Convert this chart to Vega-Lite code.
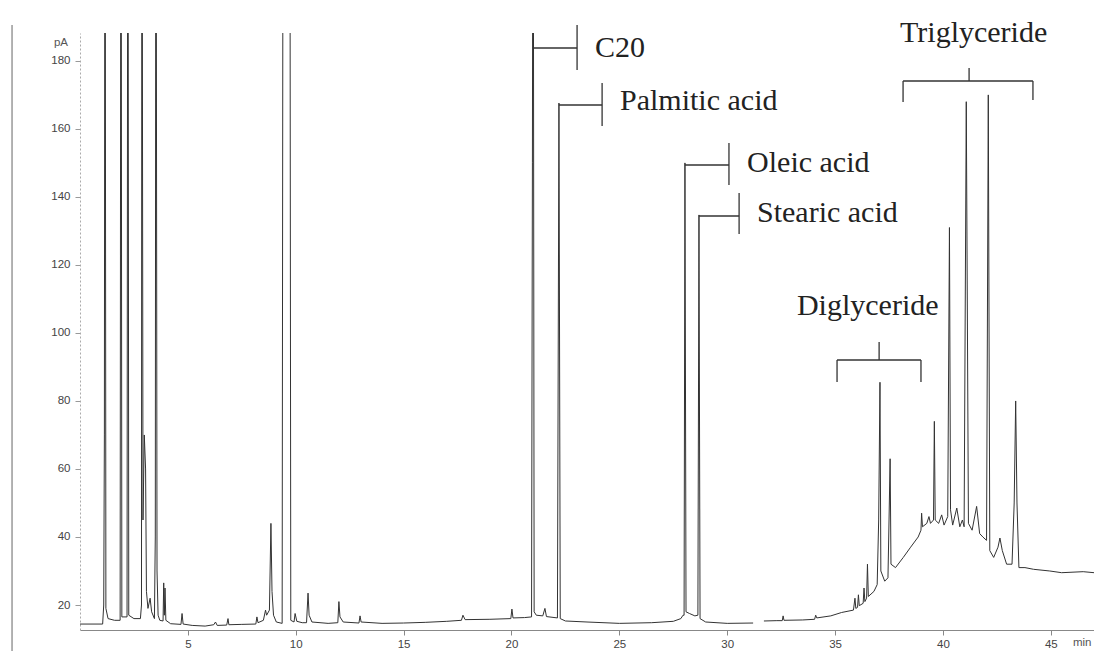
{
  "$schema": "https://vega.github.io/schema/vega-lite/v6.json",
  "width": 1014,
  "height": 597,
  "autosize": {"type": "none"},
  "padding": {"left": 80, "top": 33, "right": 0, "bottom": 21},
  "background": "white",
  "config": {"view": {"stroke": null}},
  "datasets": {
    "trace": [
      {"seg": 1, "t": 0, "v": 14.4}, {"seg": 1, "t": 1.05, "v": 14.4}, {"seg": 1, "t": 1.1, "v": 20}, {"seg": 1, "t": 1.13, "v": 70}, {"seg": 1, "t": 1.16, "v": 300}, {"seg": 1, "t": 1.2, "v": 19}, {"seg": 1, "t": 1.3, "v": 16}, {"seg": 1, "t": 1.6, "v": 15.5}, {"seg": 1, "t": 1.86, "v": 15.5}, {"seg": 1, "t": 1.9, "v": 300}, {"seg": 1, "t": 1.94, "v": 16.5}, {"seg": 1, "t": 2.18, "v": 16.5}, {"seg": 1, "t": 2.22, "v": 300}, {"seg": 1, "t": 2.26, "v": 17}, {"seg": 1, "t": 2.5, "v": 16}, {"seg": 1, "t": 2.8, "v": 16}, {"seg": 1, "t": 2.85, "v": 20}, {"seg": 1, "t": 2.87, "v": 300}, {"seg": 1, "t": 2.92, "v": 45}, {"seg": 1, "t": 2.98, "v": 70}, {"seg": 1, "t": 3.04, "v": 60}, {"seg": 1, "t": 3.08, "v": 24}, {"seg": 1, "t": 3.15, "v": 19}, {"seg": 1, "t": 3.25, "v": 22}, {"seg": 1, "t": 3.32, "v": 18}, {"seg": 1, "t": 3.45, "v": 16}, {"seg": 1, "t": 3.49, "v": 40}, {"seg": 1, "t": 3.52, "v": 300}, {"seg": 1, "t": 3.57, "v": 30}, {"seg": 1, "t": 3.62, "v": 17}, {"seg": 1, "t": 3.7, "v": 15.5}, {"seg": 1, "t": 3.85, "v": 15.3}, {"seg": 1, "t": 3.88, "v": 26.5}, {"seg": 1, "t": 3.91, "v": 17}, {"seg": 1, "t": 3.94, "v": 25}, {"seg": 1, "t": 3.98, "v": 15.5}, {"seg": 1, "t": 4.2, "v": 14.5}, {"seg": 1, "t": 4.68, "v": 14.3}, {"seg": 1, "t": 4.73, "v": 17.5}, {"seg": 1, "t": 4.78, "v": 14.4}, {"seg": 1, "t": 5.2, "v": 14}, {"seg": 1, "t": 5.8, "v": 13.8}, {"seg": 1, "t": 6.2, "v": 14.2}, {"seg": 1, "t": 6.28, "v": 15}, {"seg": 1, "t": 6.36, "v": 14}, {"seg": 1, "t": 6.8, "v": 14.1}, {"seg": 1, "t": 6.86, "v": 16}, {"seg": 1, "t": 6.9, "v": 14.2}, {"seg": 1, "t": 7.5, "v": 14.3}, {"seg": 1, "t": 8.15, "v": 14.4}, {"seg": 1, "t": 8.2, "v": 16.5}, {"seg": 1, "t": 8.25, "v": 14.8}, {"seg": 1, "t": 8.5, "v": 15.5}, {"seg": 1, "t": 8.6, "v": 18.5}, {"seg": 1, "t": 8.65, "v": 17}, {"seg": 1, "t": 8.78, "v": 18.5}, {"seg": 1, "t": 8.85, "v": 44}, {"seg": 1, "t": 8.9, "v": 24}, {"seg": 1, "t": 8.97, "v": 17}, {"seg": 1, "t": 9.1, "v": 15}, {"seg": 1, "t": 9.37, "v": 14.6}, {"seg": 1, "t": 9.42, "v": 300}, {"seg": 1, "t": 9.72, "v": 300}, {"seg": 1, "t": 9.77, "v": 15.5}, {"seg": 1, "t": 9.92, "v": 15}, {"seg": 1, "t": 9.97, "v": 17.5}, {"seg": 1, "t": 10.05, "v": 15.2}, {"seg": 1, "t": 10.3, "v": 14.8}, {"seg": 1, "t": 10.5, "v": 14.8}, {"seg": 1, "t": 10.57, "v": 23.5}, {"seg": 1, "t": 10.62, "v": 17}, {"seg": 1, "t": 10.75, "v": 15}, {"seg": 1, "t": 11.5, "v": 14.6}, {"seg": 1, "t": 11.95, "v": 14.8}, {"seg": 1, "t": 12.0, "v": 21}, {"seg": 1, "t": 12.05, "v": 16.5}, {"seg": 1, "t": 12.2, "v": 15}, {"seg": 1, "t": 12.93, "v": 14.7}, {"seg": 1, "t": 12.98, "v": 16.8}, {"seg": 1, "t": 13.03, "v": 15}, {"seg": 1, "t": 14, "v": 14.6}, {"seg": 1, "t": 15, "v": 14.7}, {"seg": 1, "t": 16, "v": 14.9}, {"seg": 1, "t": 17, "v": 15.2}, {"seg": 1, "t": 17.68, "v": 15.5}, {"seg": 1, "t": 17.75, "v": 17}, {"seg": 1, "t": 17.85, "v": 15.7}, {"seg": 1, "t": 19, "v": 15.8}, {"seg": 1, "t": 19.97, "v": 16}, {"seg": 1, "t": 20.02, "v": 18.8}, {"seg": 1, "t": 20.07, "v": 16.2}, {"seg": 1, "t": 20.6, "v": 16.3}, {"seg": 1, "t": 20.93, "v": 16.5}, {"seg": 1, "t": 20.97, "v": 150}, {"seg": 1, "t": 21.0, "v": 300}, {"seg": 1, "t": 21.05, "v": 18}, {"seg": 1, "t": 21.15, "v": 17}, {"seg": 1, "t": 21.45, "v": 16.8}, {"seg": 1, "t": 21.55, "v": 19}, {"seg": 1, "t": 21.62, "v": 16.6}, {"seg": 1, "t": 22.13, "v": 16.2}, {"seg": 1, "t": 22.2, "v": 167.6}, {"seg": 1, "t": 22.26, "v": 16}, {"seg": 1, "t": 22.5, "v": 15.3}, {"seg": 1, "t": 23.5, "v": 15}, {"seg": 1, "t": 25, "v": 14.6}, {"seg": 1, "t": 26.5, "v": 14.8}, {"seg": 1, "t": 27.5, "v": 15.2}, {"seg": 1, "t": 27.85, "v": 16}, {"seg": 1, "t": 27.95, "v": 17}, {"seg": 1, "t": 28.0, "v": 17}, {"seg": 1, "t": 28.04, "v": 150}, {"seg": 1, "t": 28.09, "v": 18}, {"seg": 1, "t": 28.25, "v": 17.5}, {"seg": 1, "t": 28.5, "v": 16.8}, {"seg": 1, "t": 28.64, "v": 17}, {"seg": 1, "t": 28.69, "v": 134.7}, {"seg": 1, "t": 28.74, "v": 16}, {"seg": 1, "t": 29, "v": 15}, {"seg": 1, "t": 30, "v": 14.6}, {"seg": 1, "t": 31.2, "v": 14.7},
      {"seg": 2, "t": 31.7, "v": 15.3}, {"seg": 2, "t": 32.3, "v": 15.4}, {"seg": 2, "t": 32.55, "v": 15.4}, {"seg": 2, "t": 32.59, "v": 16.8}, {"seg": 2, "t": 32.63, "v": 15.5}, {"seg": 2, "t": 33.5, "v": 15.6}, {"seg": 2, "t": 34.05, "v": 15.8}, {"seg": 2, "t": 34.1, "v": 17}, {"seg": 2, "t": 34.15, "v": 16.2}, {"seg": 2, "t": 34.8, "v": 16.8}, {"seg": 2, "t": 35.3, "v": 17.8}, {"seg": 2, "t": 35.85, "v": 18.5}, {"seg": 2, "t": 35.92, "v": 22}, {"seg": 2, "t": 35.96, "v": 19}, {"seg": 2, "t": 36.04, "v": 19.3}, {"seg": 2, "t": 36.08, "v": 23}, {"seg": 2, "t": 36.12, "v": 19.8}, {"seg": 2, "t": 36.3, "v": 20.5}, {"seg": 2, "t": 36.34, "v": 25}, {"seg": 2, "t": 36.38, "v": 21}, {"seg": 2, "t": 36.46, "v": 22}, {"seg": 2, "t": 36.5, "v": 32}, {"seg": 2, "t": 36.54, "v": 22.5}, {"seg": 2, "t": 36.8, "v": 24}, {"seg": 2, "t": 36.95, "v": 26}, {"seg": 2, "t": 37.02, "v": 45}, {"seg": 2, "t": 37.08, "v": 85.5}, {"seg": 2, "t": 37.12, "v": 30}, {"seg": 2, "t": 37.3, "v": 27}, {"seg": 2, "t": 37.45, "v": 28}, {"seg": 2, "t": 37.5, "v": 45}, {"seg": 2, "t": 37.55, "v": 63}, {"seg": 2, "t": 37.59, "v": 32}, {"seg": 2, "t": 37.8, "v": 31}, {"seg": 2, "t": 38.16, "v": 34}, {"seg": 2, "t": 38.5, "v": 37}, {"seg": 2, "t": 38.85, "v": 40}, {"seg": 2, "t": 38.98, "v": 42}, {"seg": 2, "t": 39.01, "v": 47}, {"seg": 2, "t": 39.05, "v": 43}, {"seg": 2, "t": 39.25, "v": 44}, {"seg": 2, "t": 39.35, "v": 46}, {"seg": 2, "t": 39.42, "v": 44}, {"seg": 2, "t": 39.56, "v": 45}, {"seg": 2, "t": 39.6, "v": 74}, {"seg": 2, "t": 39.64, "v": 45}, {"seg": 2, "t": 39.8, "v": 44}, {"seg": 2, "t": 39.94, "v": 46.5}, {"seg": 2, "t": 40.05, "v": 43.5}, {"seg": 2, "t": 40.22, "v": 46}, {"seg": 2, "t": 40.3, "v": 131}, {"seg": 2, "t": 40.35, "v": 48}, {"seg": 2, "t": 40.45, "v": 43.5}, {"seg": 2, "t": 40.64, "v": 48.5}, {"seg": 2, "t": 40.78, "v": 43}, {"seg": 2, "t": 40.9, "v": 45}, {"seg": 2, "t": 40.98, "v": 43}, {"seg": 2, "t": 41.08, "v": 168}, {"seg": 2, "t": 41.18, "v": 44}, {"seg": 2, "t": 41.35, "v": 42}, {"seg": 2, "t": 41.56, "v": 49}, {"seg": 2, "t": 41.7, "v": 41}, {"seg": 2, "t": 41.85, "v": 40}, {"seg": 2, "t": 42.02, "v": 39}, {"seg": 2, "t": 42.1, "v": 170}, {"seg": 2, "t": 42.17, "v": 36}, {"seg": 2, "t": 42.35, "v": 34}, {"seg": 2, "t": 42.55, "v": 37}, {"seg": 2, "t": 42.64, "v": 39.7}, {"seg": 2, "t": 42.75, "v": 36}, {"seg": 2, "t": 42.95, "v": 32}, {"seg": 2, "t": 43.2, "v": 32}, {"seg": 2, "t": 43.3, "v": 50}, {"seg": 2, "t": 43.37, "v": 80}, {"seg": 2, "t": 43.43, "v": 50}, {"seg": 2, "t": 43.52, "v": 31}, {"seg": 2, "t": 43.8, "v": 31}, {"seg": 2, "t": 44.2, "v": 30.5}, {"seg": 2, "t": 44.95, "v": 30}, {"seg": 2, "t": 45.5, "v": 29.5}, {"seg": 2, "t": 46.5, "v": 29.8}, {"seg": 2, "t": 47, "v": 29.5}
    ],
    "brackets": [
      {"t": 21.0, "t2": 23.04, "v": 183.79, "v2": 183.79},
      {"t": 23.04, "t2": 23.04, "v": 190.55, "v2": 177.32},
      {"t": 22.2, "t2": 24.2, "v": 167.03, "v2": 167.03},
      {"t": 24.2, "t2": 24.2, "v": 173.5, "v2": 160.86},
      {"t": 28.04, "t2": 30.08, "v": 149.39, "v2": 149.39},
      {"t": 30.08, "t2": 30.08, "v": 155.86, "v2": 143.51},
      {"t": 28.69, "t2": 30.55, "v": 134.39, "v2": 134.39},
      {"t": 30.55, "t2": 30.55, "v": 141.16, "v2": 129.09},
      {"t": 38.15, "t2": 44.17, "v": 174.09, "v2": 174.09},
      {"t": 38.15, "t2": 38.15, "v": 174.09, "v2": 167.91},
      {"t": 44.17, "t2": 44.17, "v": 174.09, "v2": 168.5},
      {"t": 41.21, "t2": 41.21, "v": 177.91, "v2": 174.09},
      {"t": 35.09, "t2": 38.98, "v": 92.05, "v2": 92.05},
      {"t": 35.09, "t2": 35.09, "v": 92.05, "v2": 85.58},
      {"t": 38.98, "t2": 38.98, "v": 92.05, "v2": 85.58},
      {"t": 37.04, "t2": 37.04, "v": 97.34, "v2": 92.05}
    ],
    "labels": [
      {"t": 23.87, "v": 181.15, "label": "C20"},
      {"t": 25.03, "v": 165.56, "label": "Palmitic acid"},
      {"t": 30.92, "v": 147.33, "label": "Oleic acid"},
      {"t": 31.38, "v": 132.63, "label": "Stearic acid"},
      {"t": 38.01, "v": 185.55, "label": "Triglyceride"},
      {"t": 33.23, "v": 105.28, "label": "Diglyceride"}
    ],
    "units": [
      {"t": -0.556, "v": 185.3, "label": "pA"},
      {"t": 46.88, "v": 8.7, "label": "min"}
    ],
    "border": [
      {"t": -3.15, "v": 190.55, "v2": 4}
    ]
  },
  "layer": [
    {
      "data": {"name": "trace"},
      "mark": {"type": "line", "clip": true, "color": "#333333", "strokeWidth": 1},
      "encoding": {
        "x": {"field": "t", "type": "quantitative", "scale": {"domain": [0, 47], "nice": false, "zero": false},
              "axis": {"values": [5, 10, 15, 20, 25, 30, 35, 40, 45], "title": null, "grid": false, "tickSize": 5, "tickColor": "#888888", "domainColor": "#888888", "labelFont": "Liberation Sans", "labelFontSize": 11.5, "labelColor": "#444444", "labelPadding": 3, "labelFlush": false}},
        "y": {"field": "v", "type": "quantitative", "scale": {"domain": [12.65, 188.2], "nice": false, "zero": false},
              "axis": {"values": [20, 40, 60, 80, 100, 120, 140, 160, 180], "title": null, "grid": false, "tickSize": 5, "tickColor": "#999999", "domainColor": "#aaaaaa", "domainDash": [2, 2], "labelFont": "Liberation Sans", "labelFontSize": 11.5, "labelColor": "#444444", "labelPadding": 5, "labelFlush": false}},
        "detail": {"field": "seg", "type": "nominal"}
      }
    },
    {
      "data": {"name": "brackets"},
      "mark": {"type": "rule", "color": "#333333", "strokeWidth": 1.3},
      "encoding": {
        "x": {"field": "t", "type": "quantitative"},
        "x2": {"field": "t2"},
        "y": {"field": "v", "type": "quantitative"},
        "y2": {"field": "v2"}
      }
    },
    {
      "data": {"name": "labels"},
      "mark": {"type": "text", "font": "Liberation Serif", "fontSize": 30, "align": "left", "baseline": "alphabetic", "color": "#222222"},
      "encoding": {
        "x": {"field": "t", "type": "quantitative"},
        "y": {"field": "v", "type": "quantitative"},
        "text": {"field": "label"}
      }
    },
    {
      "data": {"name": "units"},
      "mark": {"type": "text", "font": "Liberation Sans", "fontSize": 11.5, "color": "#555555", "align": "right", "baseline": "middle"},
      "encoding": {
        "x": {"field": "t", "type": "quantitative"},
        "y": {"field": "v", "type": "quantitative"},
        "text": {"field": "label"}
      }
    },
    {
      "data": {"name": "border"},
      "mark": {"type": "rule", "color": "#999999", "strokeWidth": 1.5},
      "encoding": {
        "x": {"field": "t", "type": "quantitative"},
        "y": {"field": "v", "type": "quantitative"},
        "y2": {"field": "v2"}
      }
    }
  ]
}
